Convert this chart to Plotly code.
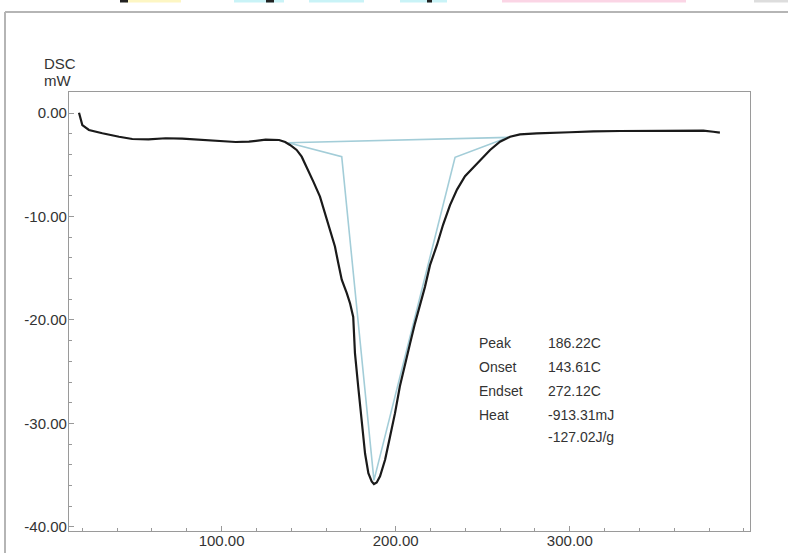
import plotly.graph_objects as go

# DSC curve (temperature in C, heat flow in mW)
temp = [18.1, 20.0, 23.8, 27.5, 31.5, 41.1, 48.7, 58.0, 67.9, 77.4, 88.9, 100.0, 108.1, 115.7,
        125.3, 133.0, 136.5, 139.3, 143.1, 146.0, 148.9, 152.7, 156.5, 159.4, 162.3, 165.1,
        167.0, 169.0, 171.9, 173.8, 175.6, 176.0, 176.6, 178.5, 180.5, 182.4, 184.3, 186.2,
        187.5, 189.1, 191.0, 193.9, 196.7, 199.6, 202.4, 205.3, 208.2, 211.1, 214.0, 216.8,
        219.7, 223.7, 227.2, 231.2, 235.2, 239.8, 245.0, 250.3, 254.2, 259.9, 265.7, 271.4,
        281.0, 300.1, 313.5, 328.8, 348.0, 367.1, 376.7, 382.4, 386.2]
dsc = [0.03, -1.16, -1.64, -1.82, -1.96, -2.29, -2.51, -2.55, -2.44, -2.48, -2.61, -2.72, -2.80, -2.77,
       -2.58, -2.61, -2.80, -3.09, -3.57, -4.22, -5.34, -6.63, -8.08, -9.69, -11.3, -12.9,
       -14.5, -16.1, -17.4, -18.4, -19.7, -21.0, -23.2, -26.5, -29.7, -32.9, -34.8, -35.6,
       -35.85, -35.7, -35.1, -33.5, -31.3, -29.0, -26.4, -24.2, -22.3, -20.3, -18.6, -16.8,
       -14.7, -12.75, -10.8, -8.9, -7.4, -6.1, -5.2, -4.3, -3.57, -2.77, -2.29, -2.06,
       -1.96, -1.86, -1.77, -1.74, -1.71, -1.67, -1.71, -1.81, -1.90]

# Analysis construction (baseline + tangents)
constr_x = [138.3, 169.0, 187.5, 234.1, 264.7, 138.3]
constr_y = [-2.87, -4.22, -35.5, -4.28, -2.35, -2.87]

# Axis ticks
x_ticks = [100, 200, 300]
y_ticks = [0, -10, -20, -30, -40]

# Result table
result_labels = ["Peak", "Onset", "Endset", "Heat", ""]
result_values = ["186.22C", "143.61C", "272.12C", "-913.31mJ", "-127.02J/g"]
result_y = [-22.25, -24.51, -26.83, -29.18, -31.33]
label_x = 246.5
value_x = 286.3

FONT = "Liberation Sans, Arial, sans-serif"
TXT = "#333333"

fig = go.Figure()
fig.add_trace(go.Scatter(x=constr_x, y=constr_y, mode="lines",
                         line=dict(color="#a3cdd8", width=1.6), hoverinfo="skip"))
fig.add_trace(go.Scatter(x=temp, y=dsc, mode="lines",
                         line=dict(color="#1a1a1a", width=2.2)))

annotations = []
for lab, val, yy in zip(result_labels, result_values, result_y):
    if lab:
        annotations.append(dict(x=label_x, y=yy, xref="x", yref="y", text=lab, showarrow=False,
                                xanchor="left", yanchor="middle", font=dict(size=14, color=TXT, family=FONT)))
    annotations.append(dict(x=value_x, y=yy, xref="x", yref="y", text=val, showarrow=False,
                            xanchor="left", yanchor="middle", font=dict(size=14, color=TXT, family=FONT)))

# axis title (DSC / mW) above the y axis
annotations.append(dict(x=-0.0396, y=1.0638, xref="paper", yref="paper", text="DSC", showarrow=False,
                        xanchor="left", yanchor="middle", font=dict(size=15, color=TXT, family=FONT)))
annotations.append(dict(x=-0.0396, y=1.0251, xref="paper", yref="paper", text="mW", showarrow=False,
                        xanchor="left", yanchor="middle", font=dict(size=15, color=TXT, family=FONT)))

W, H = 788, 553
L, T, R, B = 69, 92, 750, 531


def px(xp):
    return (xp - L) / (R - L)


def py(yp):
    return (B - yp) / (B - T)


shapes = []
# outer window border
shapes.append(dict(type="line", xref="paper", yref="paper", x0=px(5), x1=px(788), y0=py(12), y1=py(12),
                   line=dict(color="#b5b5b5", width=2)))
shapes.append(dict(type="line", xref="paper", yref="paper", x0=px(5), x1=px(5), y0=py(12), y1=py(553),
                   line=dict(color="#b5b5b5", width=2)))
# strips of the cropped toolbar at the top edge
strips = [(125, 181, "#fdf6c3"), (120, 128, "#222222"), (234, 284, "#c9f3f7"), (266, 274, "#222222"),
          (309, 364, "#c9f3f7"), (400, 447, "#c9f3f7"), (427, 432, "#222222"), (502, 686, "#fbd5e5"),
          (754, 788, "#dddddd")]
for a, b, c in strips:
    shapes.append(dict(type="rect", xref="paper", yref="paper", x0=px(a), x1=px(b), y0=py(2.5), y1=py(0),
                       fillcolor=c, line=dict(width=0), layer="above"))

fig.update_layout(
    width=W, height=H,
    margin=dict(l=L, r=W - R, t=T, b=H - B, pad=0),
    paper_bgcolor="white", plot_bgcolor="white",
    showlegend=False,
    annotations=annotations,
    shapes=shapes,
    font=dict(family=FONT, color=TXT, size=15),
    xaxis=dict(range=[12.35, 403.5], tickmode="array", tickvals=x_ticks,
               ticktext=[f"{v:.2f}" for v in x_ticks], automargin=False, ticklabelstandoff=-4,
               ticks="inside", ticklen=5, tickcolor="#999999",
               minor=dict(tickmode="linear", dtick=20, tick0=0, ticks="inside", ticklen=3, tickcolor="#999999"),
               showgrid=False, zeroline=False, showline=True, mirror=True,
               linecolor="#9a9a9a", linewidth=1.2, tickfont=dict(size=15, color=TXT)),
    yaxis=dict(range=[-40.39, 2.03], tickmode="array", tickvals=y_ticks,
               ticktext=[f"{v:.2f}" for v in y_ticks], automargin=False, ticklabelstandoff=-2,
               ticks="inside", ticklen=5, tickcolor="#999999",
               minor=dict(tickmode="linear", dtick=2, tick0=0, ticks="inside", ticklen=3, tickcolor="#999999"),
               showgrid=False, zeroline=False, showline=True, mirror=True,
               linecolor="#9a9a9a", linewidth=1.2, tickfont=dict(size=15, color=TXT)),
)

fig.write_html("out.html")
